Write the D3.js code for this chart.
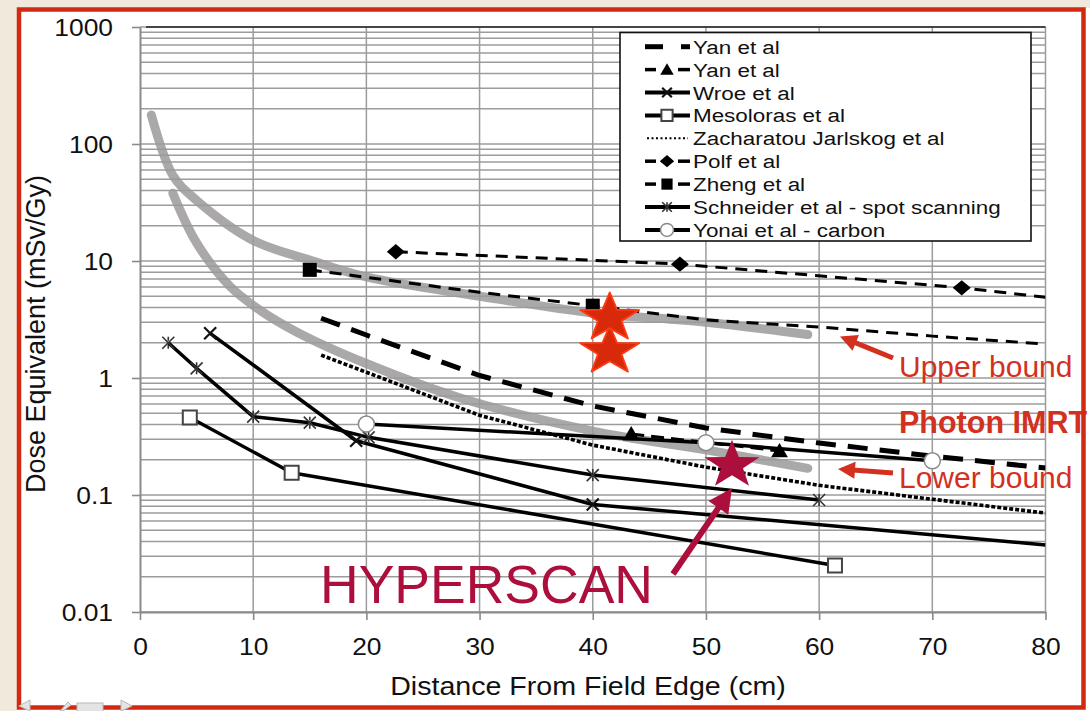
<!DOCTYPE html>
<html>
<head>
<meta charset="utf-8">
<script src="https://cdn.jsdelivr.net/npm/d3@7"></script>
<style>
  html, body { margin: 0; padding: 0; background: #fff; }
  svg { display: block; font-family: "Liberation Sans", Arial, Helvetica, sans-serif; }
</style>
</head>
<body>
<svg id="chart" width="1090" height="711"></svg>
<script>
// ---- axis ticks ----
const xTickValues = [0, 10, 20, 30, 40, 50, 60, 70, 80];
const yTickValues = [0.01, 0.1, 1, 10, 100, 1000];
const yTickLabels = ["0.01", "0.1", "1", "10", "100", "1000"];

// ---- published data sets (distance cm, dose equivalent mSv/Gy) ----
const yanDashX = [16, 20, 30, 40, 50, 60, 70, 80];
const yanDashY = [3.24, 2.33, 1.05, 0.577, 0.374, 0.278, 0.215, 0.170];

const yanTriX = [43.4, 56.5];
const yanTriY = [0.332, 0.238];

const wroeX = [6.2, 19.1, 40, 80];
const wroeY = [2.41, 0.291, 0.083, 0.0374];
const wroeMarked = [true, true, true, false];

const mesolorasX = [4.4, 13.4, 61.4];
const mesolorasY = [0.46, 0.155, 0.025];

const zacharatouX = [16, 20, 30, 40, 50, 60, 70, 80];
const zacharatouY = [1.57, 1.12, 0.48, 0.267, 0.173, 0.121, 0.092, 0.070];

const polfX = [22.6, 47.7, 72.6, 80];
const polfY = [12.0, 9.4, 5.9, 4.9];
const polfMarked = [true, true, true, false];

const zhengX = [15, 30, 40, 50, 60, 70, 80];
const zhengY = [8.4, 5.4, 4.15, 3.13, 2.73, 2.28, 1.95];
const zhengMarked = [true, false, true, false, false, false, false];

const schneiderX = [2.5, 5, 10, 15, 20.2, 40, 60];
const schneiderY = [2.0, 1.21, 0.467, 0.415, 0.311, 0.148, 0.0906];

const yonaiX = [20, 50, 70];
const yonaiY = [0.404, 0.28, 0.196];

// photon IMRT envelope
const imrtUpperX = [1, 2.9, 5, 10, 15, 20, 30, 40, 50, 59];
const imrtUpperY = [177, 54, 33, 15, 10.2, 7.3, 5.0, 3.6, 3.0, 2.35];
const imrtLowerX = [2.9, 5, 8, 10.6, 14, 20, 28.3, 40, 50, 59];
const imrtLowerY = [38, 14.3, 6.0, 3.8, 2.43, 1.33, 0.675, 0.352, 0.243, 0.169];

// proton results shown as stars
const protonStarX = [41.5, 41.5];
const protonStarY = [1.70, 3.26];
const hyperscanX = [52.3];
const hyperscanY = [0.18];

// ---- layout ----
const W = 1090, H = 711;
const svg = d3.select("#chart");
const x = d3.scaleLinear().domain([0, 80]).range([140, 1045.5]);
const y = d3.scaleLog().domain([0.01, 1000]).range([612, 27]);
const sx = 1.1;          // horizontal stretch of the chart lettering
const red = "#d3301f";
const crimson = "#ad0f3c";

// page background and outer band
svg.append("rect").attr("width", W).attr("height", H).attr("fill", "#fff");
svg.append("rect").attr("x", 0).attr("y", 0).attr("width", W).attr("height", 8).attr("fill", "#f1e9dc");
svg.append("rect").attr("x", 0).attr("y", 0).attr("width", 17).attr("height", H).attr("fill", "#f1e9dc");

// ---- grid ----
const grid = svg.append("g").attr("stroke", "#9c9c9c").attr("stroke-width", 1.5);
const hLines = [];
for (let e = -2; e < 3; e++) for (let m = 1; m < 10; m++) hLines.push(m * Math.pow(10, e));
hLines.push(1000);
grid.selectAll("line.h").data(hLines).join("line")
  .attr("x1", x(0)).attr("x2", x(80))
  .attr("y1", d => y(d)).attr("y2", d => y(d));
grid.selectAll("line.v").data(xTickValues.slice(1)).join("line")
  .attr("x1", d => x(d)).attr("x2", d => x(d))
  .attr("y1", y(0.01)).attr("y2", y(1000));
svg.append("line").attr("x1", x(0) + 6).attr("x2", x(80)).attr("y1", y(1000)).attr("y2", y(1000))
  .attr("stroke", "#222").attr("stroke-width", 1.6);

// ---- axes ----
const yAxis = svg.append("g").attr("transform", `translate(${x(0)},0)`)
  .call(d3.axisLeft(y).tickValues(yTickValues).tickSize(8).tickSizeOuter(0)
    .tickFormat((d, i) => yTickLabels[i]));
yAxis.select(".domain").attr("stroke", "#8a8a8a").attr("stroke-width", 2);
yAxis.selectAll(".tick line").attr("stroke", "#8a8a8a").attr("stroke-width", 1.6);
yAxis.selectAll(".tick text")
  .attr("x", -27 / sx).attr("dy", "0.35em")
  .attr("transform", `scale(${sx},1)`)
  .attr("font-size", 24).attr("font-family", "Liberation Sans, Arial, sans-serif").attr("fill", "#111");

const xAxis = svg.append("g").attr("transform", `translate(0,${y(0.01)})`)
  .call(d3.axisBottom(x).tickValues(xTickValues).tickSize(8).tickSizeOuter(0).tickFormat(d3.format("d")));
xAxis.select(".domain").attr("stroke", "#8a8a8a").attr("stroke-width", 2);
xAxis.selectAll(".tick line").attr("stroke", "#8a8a8a").attr("stroke-width", 1.6);
xAxis.selectAll(".tick text")
  .attr("y", 43).attr("dy", 0)
  .attr("transform", `scale(${sx},1)`)
  .attr("font-size", 24).attr("font-family", "Liberation Sans, Arial, sans-serif").attr("fill", "#111");

// axis titles
svg.append("text")
  .attr("transform", `translate(588,695) scale(${sx},1)`)
  .attr("text-anchor", "middle").attr("font-size", 26).attr("fill", "#111")
  .text("Distance From Field Edge (cm)");
svg.append("text")
  .attr("transform", "translate(44.5,334) rotate(-90)")
  .attr("text-anchor", "middle").attr("font-size", 27).attr("fill", "#111")
  .text("Dose Equivalent (mSv/Gy)");

// ---- series ----
svg.append("clipPath").attr("id", "plotClip")
  .append("rect").attr("x", x(0)).attr("y", y(1000)).attr("width", x(80) - x(0)).attr("height", y(0.01) - y(1000));
const plot = svg.append("g").attr("clip-path", "url(#plotClip)");

const pts = (xs, ys, flags) => xs.map((v, i) => ({ x: v, y: ys[i], marked: flags ? flags[i] : true }));
const lineGen = d3.line().x(d => x(d.x)).y(d => y(d.y));
const smoothGen = d3.line().x(d => x(d.x)).y(d => y(d.y)).curve(d3.curveCatmullRom.alpha(0.5));

const markerPath = {
  tri: s => `M0,${-s}L${s * 1.05},${s * 0.8}L${-s * 1.05},${s * 0.8}Z`,
  diamond: s => `M0,${-s * 0.85}L${s},0L0,${s * 0.85}L${-s},0Z`,
  square: s => `M${-s},${-s}h${2 * s}v${2 * s}h${-2 * s}Z`,
  cross: s => `M${-s},${-s}L${s},${s}M${-s},${s}L${s},${-s}`,
  asterisk: s => `M${-s},${-s}L${s},${s}M${-s},${s}L${s},${-s}M0,${-s}L0,${-s * 0.35}M0,${s * 0.35}L0,${s}`,
  circle: s => d3.arc()({ innerRadius: 0, outerRadius: s, startAngle: 0, endAngle: 2 * Math.PI })
};

const seriesDefs = [
  { key: "yanDash", label: "Yan et al", data: pts(yanDashX, yanDashY), width: 5, dash: "20,12" },
  { key: "yanTri", label: "Yan et al", data: pts(yanTriX, yanTriY), width: 3, dash: "13,7",
    marker: { shape: "tri", size: 8, fill: "#000", stroke: "none" } },
  { key: "wroe", label: "Wroe et al", data: pts(wroeX, wroeY, wroeMarked), width: 3.5,
    marker: { shape: "cross", size: 6, fill: "none", stroke: "#111", sw: 2.2 } },
  { key: "mesoloras", label: "Mesoloras et al", data: pts(mesolorasX, mesolorasY), width: 3.5,
    marker: { shape: "square", size: 7, fill: "#fff", stroke: "#444", sw: 2 } },
  { key: "zacharatou", label: "Zacharatou Jarlskog et al", data: pts(zacharatouX, zacharatouY), width: 3.6, dash: "4,2" },
  { key: "polf", label: "Polf et al", data: pts(polfX, polfY, polfMarked), width: 3, dash: "12,8",
    marker: { shape: "diamond", size: 9, fill: "#000", stroke: "none" } },
  { key: "zheng", label: "Zheng et al", data: pts(zhengX, zhengY, zhengMarked), width: 3, dash: "12,8",
    marker: { shape: "square", size: 7, fill: "#000", stroke: "none" } },
  { key: "schneider", label: "Schneider et al - spot scanning", data: pts(schneiderX, schneiderY), width: 3.5,
    marker: { shape: "asterisk", size: 6, fill: "none", stroke: "#333", sw: 1.6 } },
  { key: "yonai", label: "Yonai et al - carbon", data: pts(yonaiX, yonaiY), width: 3.5,
    marker: { shape: "circle", size: 8, fill: "#fff", stroke: "#8a8a8a", sw: 1.5 } }
];

// photon IMRT upper / lower bounds (thick grey bands)
[pts(imrtUpperX, imrtUpperY), pts(imrtLowerX, imrtLowerY)].forEach(d => {
  plot.append("path").attr("d", smoothGen(d))
    .attr("fill", "none").attr("stroke", "#9b9999").attr("stroke-opacity", 0.85)
    .attr("stroke-width", 9).attr("stroke-linecap", "round").attr("stroke-linejoin", "round");
});

seriesDefs.forEach(s => {
  plot.append("path").attr("d", lineGen(s.data))
    .attr("fill", "none").attr("stroke", "#000").attr("stroke-width", s.width)
    .attr("stroke-dasharray", s.dash || null).attr("stroke-linejoin", "round");
});
seriesDefs.forEach(s => {
  if (!s.marker) return;
  const m = s.marker;
  plot.selectAll(null).data(s.data.filter(d => d.marked)).join("path")
    .attr("transform", d => `translate(${x(d.x)},${y(d.y)})`)
    .attr("d", markerPath[m.shape](m.size))
    .attr("fill", m.fill).attr("stroke", m.stroke).attr("stroke-width", m.sw || 0);
});

// ---- stars ----
function starPath(rx, ry, inner) {
  const p = [];
  for (let i = 0; i < 10; i++) {
    const a = -Math.PI / 2 + i * Math.PI / 5;
    const k = i % 2 === 0 ? 1 : inner;
    p.push([Math.cos(a) * rx * k, Math.sin(a) * ry * k]);
  }
  return "M" + p.map(q => q.join(",")).join("L") + "Z";
}
svg.selectAll("path.proton-star").data(pts(protonStarX, protonStarY)).join("path")
  .attr("class", "proton-star")
  .attr("transform", d => `translate(${x(d.x)},${y(d.y)})`)
  .attr("d", starPath(31, 25.5, 0.4))
  .attr("fill", "#d8290b").attr("stroke", "#ff3a12").attr("stroke-width", 1.8).attr("stroke-linejoin", "round");

const hs = pts(hyperscanX, hyperscanY)[0];
svg.append("path")
  .attr("transform", `translate(${x(hs.x)},${y(hs.y)})`)
  .attr("d", starPath(29, 25.5, 0.4))
  .attr("fill", crimson);

// ---- HYPERSCAN label and arrow ----
svg.append("text").attr("x", 320).attr("y", 603)
  .attr("font-size", 53.5).attr("fill", crimson).text("HYPERSCAN");

function arrow(x1, y1, x2, y2, color, w, headLen, headW) {
  const dx = x2 - x1, dy = y2 - y1, L = Math.hypot(dx, dy);
  const ux = dx / L, uy = dy / L;
  const bx = x2 - ux * headLen, by = y2 - uy * headLen;
  svg.append("line").attr("x1", x1).attr("y1", y1).attr("x2", bx + ux * 2).attr("y2", by + uy * 2)
    .attr("stroke", color).attr("stroke-width", w);
  svg.append("path")
    .attr("d", `M${x2},${y2}L${bx - uy * headW / 2},${by + ux * headW / 2}L${bx + uy * headW / 2},${by - ux * headW / 2}Z`)
    .attr("fill", color);
}
arrow(673, 574, x(hs.x), y(hs.y) + 23, crimson, 6, 24, 24);

// ---- photon IMRT annotations ----
arrow(893, 358, 840, 336.5, red, 5, 17, 17);
arrow(893, 473, 838, 469, red, 5, 17, 17);
svg.append("text").attr("x", 899).attr("y", 377).attr("font-size", 30).attr("fill", red).text("Upper bound");
svg.append("text").attr("x", 899).attr("y", 433).attr("font-size", 30.5).attr("font-weight", "bold")
  .attr("fill", red).text("Photon IMRT");
svg.append("text").attr("x", 899).attr("y", 488).attr("font-size", 30).attr("fill", red).text("Lower bound");

// ---- legend ----
const lg = svg.append("g");
lg.append("rect").attr("x", 620).attr("y", 32.5).attr("width", 411).attr("height", 208.5)
  .attr("fill", "#fff").attr("stroke", "#111").attr("stroke-width", 1.6);
seriesDefs.forEach((s, i) => {
  const cy = 46.7 + i * 22.9;
  const row = lg.append("g");
  if (s.key === "yanDash") {
    [[645, 663], [681, 690]].forEach(([a, b]) =>
      row.append("line").attr("x1", a).attr("x2", b).attr("y1", cy).attr("y2", cy)
        .attr("stroke", "#000").attr("stroke-width", 5));
  } else if (s.key === "zacharatou") {
    row.append("line").attr("x1", 647).attr("x2", 688).attr("y1", cy).attr("y2", cy)
      .attr("stroke", "#000").attr("stroke-width", 2).attr("stroke-dasharray", "2,2.5");
  } else if (s.dash) {
    [[645, 656], [678, 690]].forEach(([a, b]) =>
      row.append("line").attr("x1", a).attr("x2", b).attr("y1", cy).attr("y2", cy)
        .attr("stroke", "#000").attr("stroke-width", 3.5));
  } else {
    row.append("line").attr("x1", 645).attr("x2", 690).attr("y1", cy).attr("y2", cy)
      .attr("stroke", "#000").attr("stroke-width", 4);
  }
  if (s.marker) {
    const m = s.marker;
    row.append("path").attr("transform", `translate(667,${cy})`)
      .attr("d", markerPath[m.shape](m.shape === "circle" ? 6.5 : m.size * 0.8))
      .attr("fill", m.fill).attr("stroke", m.stroke).attr("stroke-width", m.sw || 0);
  }
  row.append("text").attr("transform", `translate(693,${cy + 7}) scale(1.18,1)`)
    .attr("font-size", 19).attr("fill", "#111").text(s.label);
});

// ---- outer frame ----
svg.append("rect").attr("x", 19).attr("y", 9.5).attr("width", 1064.5).attr("height", 698)
  .attr("fill", "none").attr("stroke", "#d22a12").attr("stroke-width", 4.5);

// slideshow control glyphs, bottom left
const ctl = svg.append("g").attr("fill", "#e4e4e4").attr("stroke", "#b8b8b8").attr("stroke-width", 1);
ctl.append("path").attr("d", "M19,706L30,700L30,711Z");
ctl.append("path").attr("d", "M60,711L68,702L71,705L63,711Z");
ctl.append("rect").attr("x", 77).attr("y", 703).attr("width", 26).attr("height", 9);
ctl.append("path").attr("d", "M121,700L132,706L121,711Z");
</script>
</body>
</html>
